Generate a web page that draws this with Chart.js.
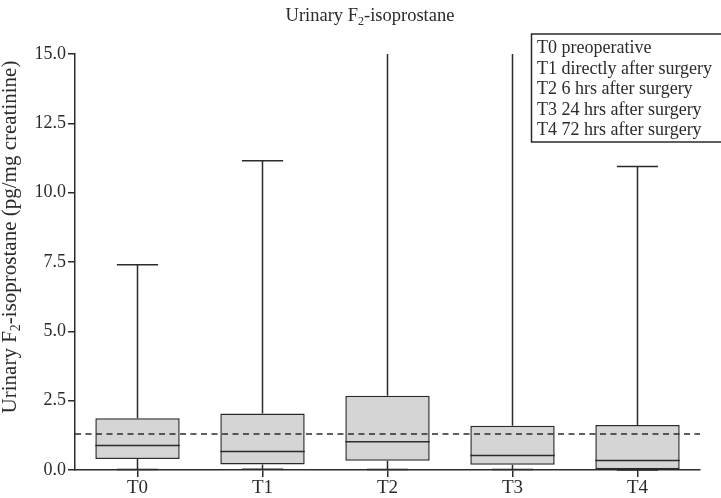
<!DOCTYPE html>
<html>
<head>
<meta charset="utf-8">
<script src="https://cdn.jsdelivr.net/npm/chart.js@4/dist/chart.umd.min.js"></script>
<style>
  html, body { margin: 0; padding: 0; background: #fff; }
  #wrap { width: 721px; height: 498px; }
</style>
</head>
<body>
<div id="wrap"><canvas id="boxChart"></canvas></div>
<script>
// time points
const categories = ['T0', 'T1', 'T2', 'T3', 'T4'];
// box plot values (pg/mg creatinine)
const mins    = [0.02, 0.03, 0.02, 0.02, 0.0];
const q1s     = [0.40, 0.20, 0.33, 0.19, 0.0];
const medians = [0.88, 0.67, 1.02, 0.52, 0.34];
const q3s     = [1.87, 2.04, 2.68, 1.60, 1.62];
const maxs    = [7.40, 11.15, 16.5, 16.5, 10.94];
const refLevel = 1.30;
const yTicks = [0, 2.5, 5, 7.5, 10, 12.5, 15];
const legendLines = [
  'T0 preoperative',
  'T1 directly after surgery',
  'T2 6 hrs after surgery',
  'T3 24 hrs after surgery',
  'T4 72 hrs after surgery'
];

const serif = "'Liberation Serif', 'DejaVu Serif', serif";
const ink = '#2b2b2b';

// text with a subscript "2" after the F
function subText(ctx, parts, x, y, size, rotate) {
  ctx.save();
  ctx.translate(x, y);
  if (rotate) ctx.rotate(-Math.PI / 2);
  ctx.textBaseline = 'middle';
  ctx.textAlign = 'left';
  const big = size + 'px ' + serif, small = Math.round(size * 0.65) + 'px ' + serif;
  ctx.font = big;  const w0 = ctx.measureText(parts[0]).width, w2 = ctx.measureText(parts[2]).width;
  ctx.font = small; const w1 = ctx.measureText(parts[1]).width;
  let tx = -(w0 + w1 + w2) / 2;
  ctx.font = big;   ctx.fillText(parts[0], tx, 0);
  ctx.font = small; ctx.fillText(parts[1], tx + w0, size * 0.3);
  ctx.font = big;   ctx.fillText(parts[2], tx + w0 + w1, 0);
  ctx.restore();
}

// whiskers behind boxes, median + dashed ref line on top
const boxExtras = {
  id: 'boxExtras',
  beforeDatasetsDraw(chart) {
    const ctx = chart.ctx, x = chart.scales.x, y = chart.scales.y, area = chart.chartArea;
    const cap = (x.getPixelForValue(1) - x.getPixelForValue(0)) * 0.33;
    ctx.save();
    ctx.beginPath();
    ctx.rect(area.left, area.top, area.right - area.left, area.bottom - area.top + 2);
    ctx.clip();
    ctx.strokeStyle = ink;
    ctx.lineWidth = 1.5;
    for (let i = 0; i < categories.length; i++) {
      const cx = x.getPixelForValue(i);
      ctx.beginPath();
      ctx.moveTo(cx, y.getPixelForValue(q3s[i]));
      ctx.lineTo(cx, y.getPixelForValue(maxs[i]));
      ctx.moveTo(cx, y.getPixelForValue(q1s[i]));
      ctx.lineTo(cx, y.getPixelForValue(mins[i]));
      ctx.stroke();
      ctx.beginPath();
      ctx.moveTo(cx - cap / 2, y.getPixelForValue(maxs[i]));
      ctx.lineTo(cx + cap / 2, y.getPixelForValue(maxs[i]));
      ctx.moveTo(cx - cap / 2, y.getPixelForValue(mins[i]));
      ctx.lineTo(cx + cap / 2, y.getPixelForValue(mins[i]));
      ctx.stroke();
    }
    ctx.restore();
  },
  afterDatasetsDraw(chart) {
    const ctx = chart.ctx, y = chart.scales.y, area = chart.chartArea;
    const meta = chart.getDatasetMeta(0);
    ctx.save();
    ctx.strokeStyle = ink;
    ctx.lineWidth = 1.5;
    meta.data.forEach((bar, i) => {
      const half = bar.width / 2;
      const my = y.getPixelForValue(medians[i]);
      ctx.beginPath();
      ctx.moveTo(bar.x - half, my);
      ctx.lineTo(bar.x + half, my);
      ctx.stroke();
    });
    const ry = y.getPixelForValue(refLevel);
    ctx.setLineDash([6, 4.5]);
    ctx.beginPath();
    ctx.moveTo(area.left, ry);
    ctx.lineTo(area.right, ry);
    ctx.stroke();
    ctx.restore();
  },
  afterDraw(chart) {
    const ctx = chart.ctx;
    ctx.save();
    ctx.fillStyle = ink;
    subText(ctx, ['Urinary F', '2', '-isoprostane'], 370, 16, 18.5, false);
    subText(ctx, ['Urinary F', '2', '-isoprostane (pg/mg creatinine)'], 10, 237, 21, true);
    // legend box
    ctx.strokeStyle = ink;
    ctx.lineWidth = 1.5;
    ctx.strokeRect(531.5, 34, 200, 108);
    ctx.font = '18px ' + serif;
    ctx.textBaseline = 'middle';
    ctx.textAlign = 'left';
    legendLines.forEach((t, i) => ctx.fillText(t, 537, 48.5 + i * 20.5));
    ctx.restore();
  }
};

new Chart(document.getElementById('boxChart'), {
  type: 'bar',
  data: {
    labels: categories,
    datasets: [{
      data: categories.map((c, i) => [q1s[i], q3s[i]]),
      backgroundColor: '#d5d5d5',
      borderColor: ink,
      borderWidth: 1.5,
      borderSkipped: false,
      categoryPercentage: 1,
      barPercentage: 0.675
    }]
  },
  options: {
    responsive: true,
    maintainAspectRatio: false,
    animation: false,
    layout: { padding: { top: 54, right: 21, left: 0, bottom: 0 } },
    plugins: { legend: { display: false }, tooltip: { enabled: false }, title: { display: false } },
    scales: {
      x: {
        offset: true,
        grid: { display: true, drawOnChartArea: false, offset: false, color: ink, tickLength: 7, lineWidth: 1.5 },
        border: { display: true, color: ink, width: 1.5 },
        ticks: { color: ink, font: { family: serif, size: 19 }, padding: 0 },
        afterFit(scale) { scale.height = 28; }
      },
      y: {
        min: 0,
        max: 15,
        afterBuildTicks(scale) { scale.ticks = yTicks.map(v => ({ value: v })); },
        grid: { display: true, drawOnChartArea: false, color: ink, tickLength: 7, lineWidth: 1.5 },
        border: { display: true, color: ink, width: 1.5 },
        ticks: { color: ink, font: { family: serif, size: 18 }, padding: 2, callback: v => Number(v).toFixed(1) },
        afterFit(scale) { scale.width = 75; }
      }
    }
  },
  plugins: [boxExtras]
});
</script>
</body>
</html>
